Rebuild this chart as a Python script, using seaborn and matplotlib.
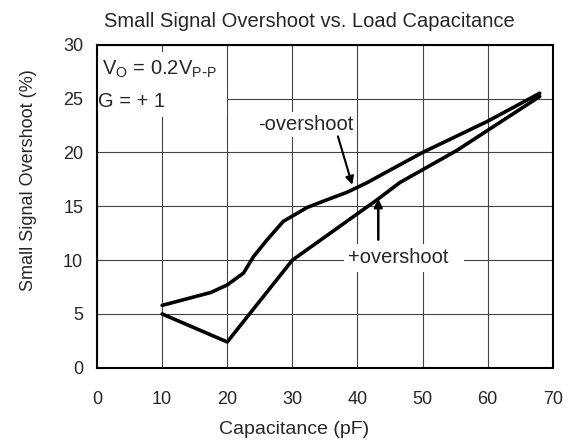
import matplotlib
matplotlib.use("Agg")
import matplotlib.pyplot as plt
import seaborn as sns
import pandas as pd

# curve points
neg_cap = [10, 17.5, 20, 22.5, 24, 26, 28.6, 32.3, 35.3, 38.4, 41.5, 43, 50, 60, 68]
neg_os = [5.8, 7.0, 7.7, 8.8, 10.3, 11.8, 13.6, 14.9, 15.6, 16.3, 17.2, 17.7, 20.0, 22.9, 25.5]
pos_cap = [10, 20, 30, 43, 46.5, 55.3, 68]
pos_os = [5.0, 2.4, 10.0, 15.6, 17.2, 20.2, 25.2]

xticks = [0, 10, 20, 30, 40, 50, 60, 70]
yticks = [0, 5, 10, 15, 20, 25, 30]

df = pd.concat([
    pd.DataFrame({'cap': neg_cap, 'os': neg_os, 'curve': '-overshoot'}),
    pd.DataFrame({'cap': pos_cap, 'os': pos_os, 'curve': '+overshoot'}),
])

sns.set_style("white")
plt.rcParams['font.family'] = ['Liberation Sans', 'DejaVu Sans']

fig = plt.figure(figsize=(5.71, 4.48), dpi=100)
ax = fig.add_axes([0.170, 0.179, 0.798, 0.721])

sns.lineplot(data=df, x='cap', y='os', units='curve', estimator=None, sort=False,
             color='black', linewidth=2.6, ax=ax, legend=False)

ax.set_xlim(0, 70)
ax.set_ylim(0, 30)
ax.set_xticks(xticks)
ax.set_yticks(yticks)
ax.grid(True, color='#444444', linewidth=0.8)
ax.tick_params(axis='x', length=0, pad=17, labelsize=13)
ax.tick_params(axis='y', length=0, pad=10, labelsize=13)
for s in ax.spines.values():
    s.set_color('black')
    s.set_linewidth(1.5)
    s.set_zorder(5)

ax.set_xlabel('Capacitance (pF)', fontsize=14)
ax.xaxis.set_label_coords(0.432, -0.165)
ax.set_ylabel('Small Signal Overshoot (%)', fontsize=13)
ax.yaxis.set_label_coords(-0.132, 0.582)
ax.set_title('Small Signal Overshoot vs. Load Capacitance', fontsize=14.5, pad=13, x=0.467)

ax.text(0.75, 27.7, r'V$_{\mathregular{O}}$ = 0.2V$_{\mathregular{P\text{-}P}}$',
        fontsize=14.5, va='center', ha='left', zorder=3,
        bbox=dict(facecolor='white', edgecolor='none', pad=5))
ax.text(0.1, 24.7, 'G = + 1          ', fontsize=14.5, va='center', ha='left', zorder=3,
        bbox=dict(facecolor='white', edgecolor='none', pad=4))

ax.text(32.0, 22.6, '-overshoot', fontsize=14.5, ha='center', va='center', zorder=3,
        bbox=dict(facecolor='white', edgecolor='none', pad=2))
ax.text(47.2, 10.2, '+overshoot  ', fontsize=14.5, ha='center', va='center', zorder=3,
        bbox=dict(facecolor='white', edgecolor='none', pad=3))

ax.annotate('', xy=(39.2, 17.0), xytext=(37.0, 21.5),
            arrowprops=dict(arrowstyle='-|>', color='black', lw=1.5,
                            mutation_scale=12, shrinkA=0, shrinkB=0))
ax.annotate('', xy=(43.2, 15.7), xytext=(43.2, 11.9),
            arrowprops=dict(arrowstyle='-|>', color='black', lw=1.8,
                            mutation_scale=12, shrinkA=0, shrinkB=0))

fig.savefig('out.png', dpi=100)
